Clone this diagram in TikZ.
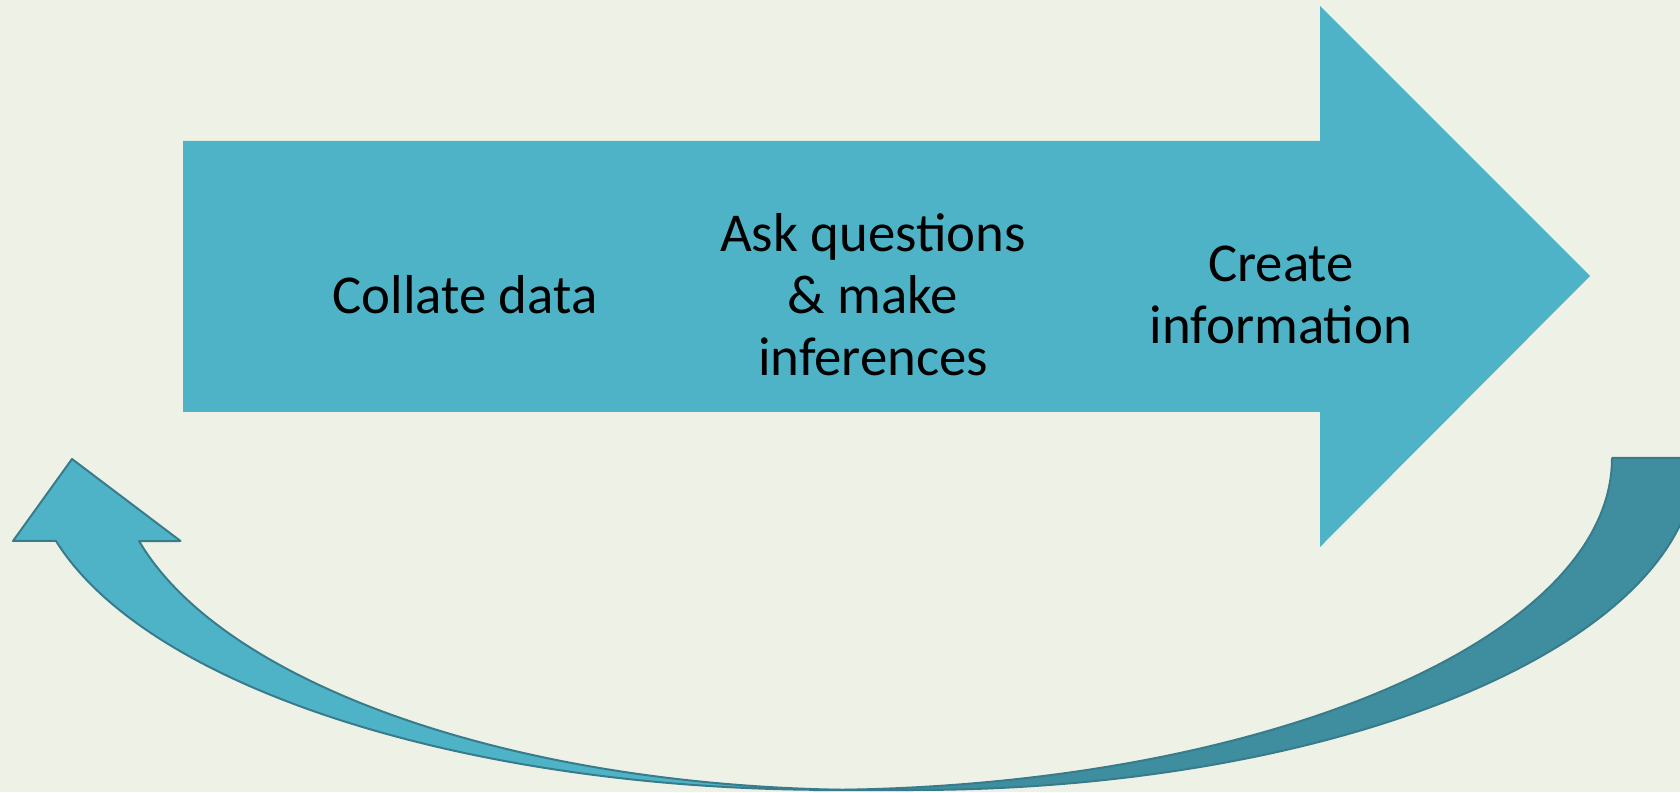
\documentclass[tikz,border=0pt]{standalone}
\usepackage{fontspec}
\setmainfont{Carlito}
\definecolor{slidebg}{RGB}{238,241,230}
\definecolor{arrowblue}{RGB}{79,179,200}
\definecolor{arrowdark}{RGB}{63,142,160}
\definecolor{arrowedge}{RGB}{56,124,140}
\begin{document}
\begin{tikzpicture}[x=0.5pt,y=0.5pt,
        steptext/.style={align=center,text=black,font=\fontsize{27.4}{31}\selectfont},
        curvelit/.style={draw=arrowedge,fill=arrowblue,line width=1pt,line join=round},
        curvedark/.style={draw=arrowedge,fill=arrowdark,line width=1pt,line join=round}]
            \fill [slidebg] (0,0) rectangle (1680,792);
            \useasboundingbox (0,0) rectangle (1680,792);
            \clip (0,0) rectangle (1680,792);

            % X % 183   1320   1590
            % Y % 245   380    516    651    786

            \fill [arrowblue] (183,380) -- (183,651) -- (1320,651) -- (1320,786)
                              -- (1590,516) -- (1320,245) -- (1320,380) -- cycle;

            \node [steptext] (collate) at (465,497) {Collate data};
            \node [steptext] (ask) at (873,497) {Ask questions\\\& make\\inferences};
            \node [steptext] (create) at (1281,497) {Create\\information};

            % curved arrow back to the start: underside, then top side with head
            \draw [curvedark] (1696,334) arc [start angle=0, end angle=-90, x radius=783, y radius=332]
                              -- (813,2) arc [start angle=270, end angle=360, x radius=799, y radius=332]
                              -- cycle;
            \draw [curvelit]  (56,251) arc [start angle=194.5, end angle=270, x radius=801, y radius=332]
                              -- (870,2) arc [start angle=270, end angle=194.5, x radius=755, y radius=332]
                              -- (180.5,251) -- (72,333) -- (13,251) -- cycle;
        \end{tikzpicture}
\end{document}
